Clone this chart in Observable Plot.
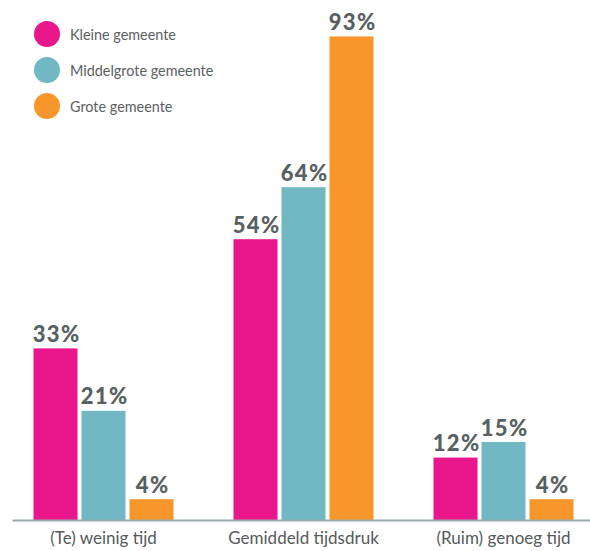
<!DOCTYPE html>
<html>
<head>
<meta charset="utf-8">
<script src="https://cdn.jsdelivr.net/npm/d3@7"></script>
<script src="https://cdn.jsdelivr.net/npm/@observablehq/plot@0.6"></script>
<style>
  html, body { margin: 0; padding: 0; background: #fff; }
  #wrap { position: relative; width: 590px; height: 551px; font-family: Lato, "Open Sans", sans-serif; }
  #legend { position: absolute; left: 34px; top: 21px; }
  .item { display: flex; align-items: center; height: 26px; margin-bottom: 10px; font-size: 14.4px; color: #5c6062; }
  .sw { width: 26px; height: 26px; border-radius: 50%; margin-right: 10px; }
  #wrap svg g[aria-label="text"] text { letter-spacing: 1.3px; }
</style>
</head>
<body>
<div id="wrap"><div id="legend"></div></div>
<script>
const groups = ["(Te) weinig tijd", "Gemiddeld tijdsdruk", "(Ruim) genoeg tijd"];
const series = ["Kleine gemeente", "Middelgrote gemeente", "Grote gemeente"];
const colors = ["#e9168c", "#71b8c4", "#f7962b"];
const kleine = [33, 54, 12];
const middelgrote = [21, 64, 15];
const grote = [4, 93, 4];

const seriesValues = [kleine, middelgrote, grote];
const data = [];
groups.forEach((g, gi) => {
  series.forEach((s, si) => {
    data.push({group: g, series: s, value: seriesValues[si][gi]});
  });
});

const legend = document.getElementById("legend");
series.forEach((s, i) => {
  const it = document.createElement("div");
  it.className = "item";
  it.innerHTML = `<div class="sw" style="background:${colors[i]}"></div><span>${s}</span>`;
  legend.appendChild(it);
});

const baseStyle = {stroke: "#9aabab", strokeWidth: 2};
const chart = Plot.plot({
  width: 590,
  height: 551,
  marginTop: 0,
  marginBottom: 31,
  marginLeft: 27.5,
  marginRight: 12.5,
  style: {fontFamily: "Lato, 'Open Sans', sans-serif", background: "transparent"},
  fx: {domain: groups, paddingInner: 0.25, paddingOuter: 0, label: null},
  x: {domain: series, paddingInner: 0.093, paddingOuter: 0.093, axis: null},
  y: {domain: [0, 100], axis: null},
  color: {domain: series, range: colors},
  marks: [
    Plot.barY(data, {fx: "group", x: "series", y: "value", fill: "series"}),
    Plot.text(data, {
      fx: "group", x: "series", y: "value", text: d => d.value + "%",
      dy: -7, dx: 0.6, lineAnchor: "bottom", fontSize: 22, fontWeight: 900,
      fontFamily: "Lato, sans-serif", fill: "#586162"
    }),
    Plot.ruleY([{group: groups[0]}], {fx: "group", y: () => 0, insetLeft: -15.5, insetRight: -25, ...baseStyle}),
    Plot.ruleY([{group: groups[1]}, {group: groups[2]}], {fx: "group", y: () => 0, insetLeft: -25, insetRight: -25, ...baseStyle}),
    Plot.axisFx({anchor: "bottom", tickSize: 0, tickPadding: 11, fontSize: 17, color: "#555a5b", label: null})
  ]
});
document.getElementById("wrap").prepend(chart);
chart.style.position = "absolute";
chart.style.left = "0";
chart.style.top = "0";
legend.style.zIndex = 2;
</script>
</body>
</html>
